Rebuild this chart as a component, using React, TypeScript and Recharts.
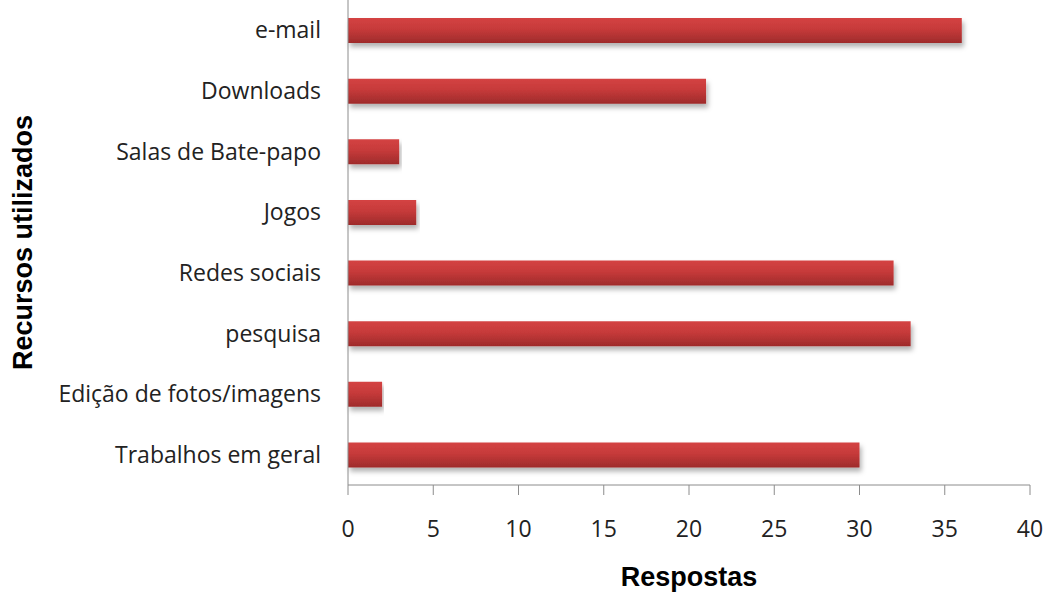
import React from 'react';
import { BarChart, Bar, XAxis, YAxis } from 'recharts';

const categories = [
    'e-mail',
    'Downloads',
    'Salas de Bate-papo',
    'Jogos',
    'Redes sociais',
    'pesquisa',
    'Edição de fotos/imagens',
    'Trabalhos em geral',
];
const respostas = [36, 21, 3, 4, 32, 33, 2, 30];
const xTicks = [0, 5, 10, 15, 20, 25, 30, 35, 40];

const data = categories.map((name, i) => ({ name, value: respostas[i] }));

const tickFont = { fill: '#222', fontSize: 23, fontFamily: 'Open Sans' };
const titleFont = { fill: '#000', fontSize: 27, fontWeight: 'bold', fontFamily: 'Liberation Sans' };

export default function App() {
    return (
        <div style={{ position: 'absolute', left: 0, top: 0, background: '#fff' }}>
            <BarChart
                width={1044}
                height={593}
                data={data}
                layout="vertical"
                margin={{ top: 0, right: 14, bottom: 0, left: 0 }}
                barCategoryGap={0}
            >
                <defs>
                    <linearGradient id="barFill" x1="0" y1="0" x2="0" y2="1">
                        <stop offset="0%" stopColor="#d44343" />
                        <stop offset="45%" stopColor="#c63a3a" />
                        <stop offset="100%" stopColor="#9e2b2b" />
                    </linearGradient>
                    <filter id="barShadow" x="-5%" y="-20%" width="110%" height="160%">
                        <feDropShadow dx="2" dy="4" stdDeviation="2.5" floodColor="#000" floodOpacity="0.3" />
                    </filter>
                </defs>
                <XAxis
                    type="number"
                    domain={[0, 40]}
                    ticks={xTicks}
                    height={108}
                    stroke="#8c8c8c"
                    tickSize={10}
                    tickMargin={26}
                    tick={tickFont}
                    label={{
                        value: 'Respostas',
                        position: 'insideBottom',
                        offset: 0,
                        dy: -7,
                        style: titleFont,
                    }}
                />
                <YAxis
                    type="category"
                    dataKey="name"
                    width={348}
                    stroke="#8c8c8c"
                    tickLine={false}
                    tickSize={0}
                    tickMargin={27}
                    tick={tickFont}
                    label={{
                        value: 'Recursos utilizados',
                        angle: -90,
                        position: 'insideLeft',
                        offset: 22,
                        style: { ...titleFont, textAnchor: 'middle' },
                    }}
                />
                <Bar
                    dataKey="value"
                    fill="url(#barFill)"
                    barSize={25}
                    filter="url(#barShadow)"
                    isAnimationActive={false}
                />
            </BarChart>
        </div>
    );
}
